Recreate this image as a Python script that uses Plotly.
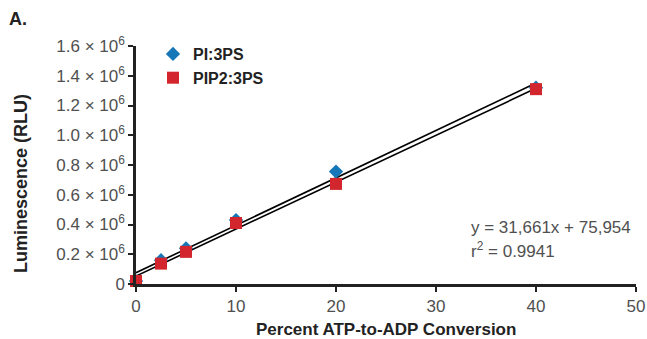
import numpy as np
import plotly.graph_objects as go

x_vals = [0, 2.5, 5, 10, 20, 40]
pi_3ps = [20000, 160000, 240000, 430000, 756000, 1320000]
pip2_3ps = [20000, 137000, 216000, 410000, 673000, 1310000]
series_names = ["PI:3PS", "PIP2:3PS"]
x_ticks = [0, 10, 20, 30, 40, 50]
y_ticks = [0, 200000, 400000, 600000, 800000, 1000000, 1200000, 1400000, 1600000]
y_ticklabels = ["0"] + [f"{v/1e6:.1f} × 10<sup>6</sup>" for v in y_ticks[1:]]
equation_text = "y = 31,661x + 75,954"
r2_text = "r<sup>2</sup> = 0.9941"

BLUE = "#1677b8"
RED = "#d3252d"
GRAY = "#505050"
DARK = "#222222"
BOLD = "Liberation Sans, Arial, sans-serif"
REG = "Liberation Sans, Arial, sans-serif"

# plot area in pixels
L, R, T, B = 136, 11, 46, 55
PW, PH = 647 - L - R, 339 - T - B


def px_x(px):
    return (px - L) / PW


def px_y(py):
    return (339 - B - py) / PH


fig = go.Figure()

# regression lines from fits of each series
xfit = np.array([0, 40])
for ys in (pi_3ps, pip2_3ps):
    m, b = np.polyfit(x_vals, ys, 1)
    fig.add_trace(go.Scatter(x=xfit, y=m * xfit + b, mode="lines",
                             line=dict(color="black", width=1.6),
                             showlegend=False, hoverinfo="skip"))

fig.add_trace(go.Scatter(x=x_vals, y=pi_3ps, mode="markers", name=series_names[0],
                         marker=dict(symbol="diamond", size=11, color=BLUE),
                         cliponaxis=False))
fig.add_trace(go.Scatter(x=x_vals, y=pip2_3ps, mode="markers", name=series_names[1],
                         marker=dict(symbol="square", size=12, color=RED),
                         cliponaxis=False))

axis_common = dict(showgrid=False, zeroline=False, automargin=False,
                   showline=True, linecolor=DARK, linewidth=2.5,
                   ticks="outside", ticklen=5, tickwidth=1.5, tickcolor=DARK,
                   tickfont=dict(family=REG, size=17, color=GRAY))

fig.update_layout(
    width=647, height=339,
    margin=dict(l=L, r=R, t=T, b=B, autoexpand=False),
    paper_bgcolor="white", plot_bgcolor="white",
    font=dict(family=REG, size=17, color=GRAY),
    legend=dict(x=px_x(153), y=px_y(37), xanchor="left", yanchor="top",
                bgcolor="rgba(0,0,0,0)", itemwidth=30, tracegroupgap=0,
                font=dict(family=BOLD, size=16, color=DARK, weight="bold")),
    xaxis=dict(range=[0, 50], tickvals=x_ticks, **axis_common),
    yaxis=dict(range=[0, 1600000], tickvals=y_ticks, ticktext=y_ticklabels,
               **axis_common),
    annotations=[
        dict(text="<b>A.</b>", x=px_x(7), y=px_y(19), xref="paper", yref="paper",
             showarrow=False, xanchor="left", yanchor="middle",
             font=dict(family=BOLD, size=18, color=DARK)),
        dict(text="<b>Percent ATP-to-ADP Conversion</b>", x=px_x(386), xref="paper",
             y=px_y(329), yref="paper", showarrow=False, yanchor="middle",
             font=dict(family=BOLD, size=17, color=DARK)),
        dict(text="<b>Luminescence (RLU)</b>", textangle=-90, x=px_x(21), xref="paper",
             y=px_y(184), yref="paper", showarrow=False, xanchor="center",
             yanchor="middle", font=dict(family=BOLD, size=18, color=DARK)),
        dict(text=equation_text, x=px_x(469), xref="paper", y=px_y(227), yref="paper",
             showarrow=False, xanchor="left", yanchor="middle",
             font=dict(size=17, color=GRAY)),
        dict(text=r2_text, x=px_x(469), xref="paper", y=px_y(250), yref="paper",
             showarrow=False, xanchor="left", yanchor="middle",
             font=dict(size=17, color=GRAY)),
    ],
)

fig.write_html("out.html")
